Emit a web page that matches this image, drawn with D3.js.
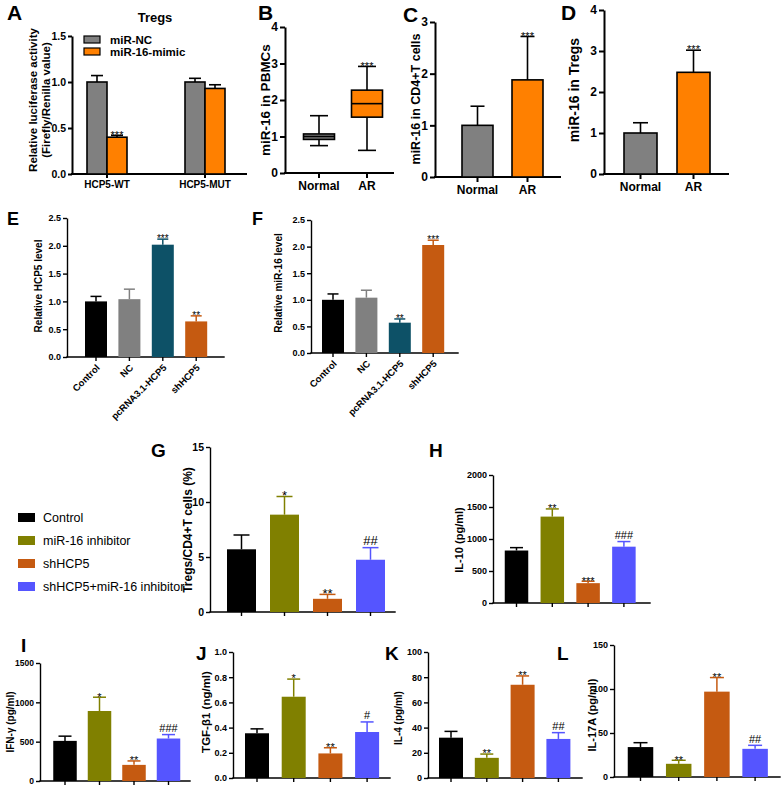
<!DOCTYPE html>
<html>
<head>
<meta charset="utf-8">
<script src="https://cdn.jsdelivr.net/npm/d3@7"></script>
<style>
  body { margin: 0; background: #fff; }
</style>
</head>
<body>
<div id="fig"></div>
<script>
// ---- data ----
const lucGroups = ["HCP5-WT", "HCP5-MUT"];
const lucSeries = ["miR-NC", "miR-16-mimic"];
const lucMean = [[1.0, 0.40], [1.0, 0.93]];
const lucErr = [[0.07, 0.02], [0.04, 0.04]];
const lucSig = [["", "***"], ["", ""]];

const arGroups = ["Normal", "AR"];
const pbmcBox = [
  { min: 0.75, q1: 0.92, med: 1.0, q3: 1.07, max: 1.57 },
  { min: 0.62, q1: 1.53, med: 1.9, q3: 2.27, max: 2.92 }
];
const pbmcSig = ["", "***"];
const cd4Mean = [1.0, 1.88];
const cd4Err = [0.37, 0.84];
const tregMean = [1.0, 2.48];
const tregErr = [0.25, 0.54];
const arSig = ["", "***"];

const efGroups = ["Control", "NC", "pcRNA3.1-HCP5", "shHCP5"];
const hcp5Mean = [1.0, 1.04, 2.02, 0.64];
const hcp5Err = [0.09, 0.18, 0.10, 0.10];
const hcp5Sig = ["", "", "***", "**"];
const mir16Mean = [1.0, 1.04, 0.57, 2.03];
const mir16Err = [0.11, 0.14, 0.07, 0.09];
const mir16Sig = ["", "", "**", "***"];

const treatGroups = ["Control", "miR-16 inhibitor", "shHCP5", "shHCP5+miR-16 inhibitor"];
const tregPct = [5.7, 8.85, 1.2, 4.75];
const tregPctErr = [1.3, 1.65, 0.4, 1.1];
const tregPctSig = ["", "*", "**", "##"];
const il10 = [820, 1350, 310, 880];
const il10Err = [45, 120, 30, 80];
const il10Sig = ["", "**", "***", "###"];
const ifng = [510, 890, 205, 540];
const ifngErr = [60, 175, 50, 50];
const ifngSig = ["", "*", "**", "###"];
const tgfb1 = [0.355, 0.645, 0.195, 0.365];
const tgfb1Err = [0.035, 0.14, 0.045, 0.08];
const tgfb1Sig = ["", "*", "**", "#"];
const il4 = [32, 16, 74, 31];
const il4Err = [5, 3, 7, 5];
const il4Sig = ["", "**", "**", "##"];
const il17a = [34, 15, 97, 32];
const il17aErr = [5, 4, 16, 4];
const il17aSig = ["", "**", "**", "##"];

// ---- colours ----
const GRAY = "#808080", ORANGE = "#ff8000";
const efColors = ["#000000", "#808080", "#0d5167", "#c55a11"];
const treatColors = ["#000000", "#808000", "#c55a11", "#5555ff"];
const FONT = "Arial, 'Liberation Sans', Helvetica, sans-serif";

const svg = d3.select("#fig").append("svg")
  .attr("width", 783).attr("height", 789)
  .attr("font-family", FONT);

function panelLetter(t, x, y, size) {
  svg.append("text").attr("x", x).attr("y", y)
    .attr("font-size", size).attr("font-weight", "bold").text(t);
}

function makeAxes(p) {
  const g = svg.append("g");
  const y = d3.scaleLinear().domain(p.domain).range([p.base, p.top]);
  const pad = 1 - p.bw / p.step;
  const x = d3.scaleBand().domain(p.cats)
    .range([p.c0 - p.step / 2, p.c0 + (p.cats.length - 0.5) * p.step])
    .paddingInner(pad).paddingOuter(pad / 2);

  const ya = g.append("g").attr("transform", `translate(${p.axisX},0)`)
    .call(d3.axisLeft(y).tickValues(p.ticks).tickFormat(p.fmt)
      .tickSize(p.tickLen).tickSizeOuter(0));
  const xa = g.append("g").attr("transform", `translate(0,${p.base})`)
    .call(d3.axisBottom(x).tickSize(p.tickLen).tickSizeOuter(0)
      .tickFormat(p.xLabels ? d => d : ""));
  xa.select(".domain").remove();
  g.append("line")
    .attr("x1", p.axisX).attr("x2", p.axisEnd)
    .attr("y1", p.base).attr("y2", p.base)
    .attr("stroke", "#000").attr("stroke-width", p.axisW)
    .attr("stroke-linecap", "square");

  [ya, xa].forEach(a => {
    a.selectAll("path, line").attr("stroke", "#000").attr("stroke-width", p.axisW);
    a.selectAll("text").attr("font-family", FONT).attr("font-weight", "bold")
      .attr("fill", "#000");
  });
  ya.selectAll("text").attr("font-size", p.tickFont).attr("x", -p.tickLen - 2);
  xa.selectAll("text").attr("font-size", p.xFont || p.tickFont);
  if (p.rotate) {
    xa.selectAll("text")
      .attr("text-anchor", "end")
      .attr("x", 0).attr("y", 0).attr("dy", "0.35em")
      .attr("transform", "translate(2,9) rotate(-45)");
  }

  g.append("text")
    .attr("transform", `translate(${p.ylabX},${p.ylabY}) rotate(-90)`)
    .attr("text-anchor", "middle").attr("font-weight", "bold")
    .attr("font-size", p.ylabFont)
    .selectAll("tspan").data([].concat(p.ylab)).join("tspan")
    .attr("x", 0).attr("dy", (d, i) => i === 0 ? 0 : p.ylabFont * 1.15)
    .text(d => d);
  return { g, x, y };
}

// baseline for a significance mark sitting just above the error cap
function sigY(top, s, size) {
  return s.includes("#") ? top - 2.5 : top + size * 0.3;
}

function barPanel(p) {
  const { g, x, y } = makeAxes(p);
  const cx = d => x(d) + x.bandwidth() / 2;

  g.selectAll("rect.bar").data(p.cats).join("rect").attr("class", "bar")
    .attr("x", d => x(d)).attr("width", x.bandwidth())
    .attr("y", (d, i) => y(p.values[i]))
    .attr("height", (d, i) => p.base - y(p.values[i]))
    .attr("fill", (d, i) => p.colors[i])
    .attr("stroke", p.stroke || "none").attr("stroke-width", p.strokeW || 0);

  const errCol = (d, i) => p.errColor || p.colors[i];
  g.selectAll("line.err").data(p.cats).join("line").attr("class", "err")
    .attr("x1", cx).attr("x2", cx)
    .attr("y1", (d, i) => y(p.values[i]))
    .attr("y2", (d, i) => y(p.values[i] + p.errs[i]))
    .attr("stroke", errCol).attr("stroke-width", p.errW);
  g.selectAll("line.cap").data(p.cats).join("line").attr("class", "cap")
    .attr("x1", d => cx(d) - p.capW / 2).attr("x2", d => cx(d) + p.capW / 2)
    .attr("y1", (d, i) => y(p.values[i] + p.errs[i]))
    .attr("y2", (d, i) => y(p.values[i] + p.errs[i]))
    .attr("stroke", errCol).attr("stroke-width", p.errW);

  g.selectAll("text.sig").data(p.cats).join("text").attr("class", "sig")
    .attr("x", cx)
    .attr("y", (d, i) => sigY(y(p.values[i] + p.errs[i]), p.sig[i], p.sigFont))
    .attr("text-anchor", "middle").attr("font-size", p.sigFont)
    .attr("fill", "#000")
    .text((d, i) => p.sig[i]);
}

// ---- A: luciferase grouped bars ----
(function () {
  const p = {
    cats: lucGroups, domain: [0, 1.5], ticks: [0, 0.5, 1.0, 1.5], fmt: d3.format(".1f"),
    base: 174, top: 36, axisX: 72, axisEnd: 246, c0: 107, step: 98, bw: 40,
    tickLen: 4, axisW: 2, tickFont: 10.5, xLabels: true, xFont: 10,
    ylab: ["Relative luciferase activity", "(Firefly/Renilla value)"],
    ylabX: 37, ylabY: 100, ylabFont: 11.5
  };
  const { g, x, y } = makeAxes(p);
  const xs = d3.scaleBand().domain(lucSeries).range([0, x.bandwidth()]);
  const cols = [GRAY, ORANGE];
  const grp = g.selectAll("g.grp").data(lucGroups).join("g").attr("class", "grp")
    .attr("transform", d => `translate(${x(d)},0)`);
  lucSeries.forEach((s, j) => {
    const cx = xs(s) + xs.bandwidth() / 2;
    grp.append("rect")
      .attr("x", xs(s)).attr("width", xs.bandwidth())
      .attr("y", (d, i) => y(lucMean[i][j]))
      .attr("height", (d, i) => p.base - y(lucMean[i][j]))
      .attr("fill", cols[j]).attr("stroke", "#000").attr("stroke-width", 1.6);
    grp.append("line")
      .attr("x1", cx).attr("x2", cx)
      .attr("y1", (d, i) => y(lucMean[i][j]))
      .attr("y2", (d, i) => y(lucMean[i][j] + lucErr[i][j]))
      .attr("stroke", "#000").attr("stroke-width", 1.6);
    grp.append("line")
      .attr("x1", cx - 6).attr("x2", cx + 6)
      .attr("y1", (d, i) => y(lucMean[i][j] + lucErr[i][j]))
      .attr("y2", (d, i) => y(lucMean[i][j] + lucErr[i][j]))
      .attr("stroke", "#000").attr("stroke-width", 1.6);
    grp.append("text")
      .attr("x", cx).attr("y", (d, i) => sigY(y(lucMean[i][j] + lucErr[i][j]), lucSig[i][j], 11))
      .attr("text-anchor", "middle").attr("font-size", 11).attr("fill", "#000")
      .text((d, i) => lucSig[i][j]);
  });
  // legend
  const lg = svg.append("g");
  lucSeries.forEach((s, j) => {
    lg.append("rect").attr("x", 84).attr("y", 36 + j * 12).attr("width", 16).attr("height", 7)
      .attr("fill", cols[j]).attr("stroke", "#000").attr("stroke-width", 1.2);
    lg.append("text").attr("x", 110).attr("y", 44 + j * 12)
      .attr("font-size", 11.5).attr("font-weight", "bold").text(s);
  });
  svg.append("text").attr("x", 155).attr("y", 22).attr("text-anchor", "middle")
    .attr("font-size", 13).attr("font-weight", "bold").text("Tregs");
  panelLetter("A", 7, 20, 21);
})();

// ---- B: box plot ----
(function () {
  const p = {
    cats: arGroups, domain: [0, 4], ticks: [0, 1, 2, 3, 4], fmt: d3.format("d"),
    base: 173, top: 27, axisX: 285, axisEnd: 393, c0: 319, step: 48, bw: 31,
    tickLen: 5, axisW: 2, tickFont: 12, xLabels: true, xFont: 12,
    ylab: "miR-16 in PBMCs", ylabX: 270, ylabY: 100, ylabFont: 13.5
  };
  const { g, x, y } = makeAxes(p);
  const cols = [GRAY, ORANGE];
  const bw = x.bandwidth();
  const b = g.selectAll("g.box").data(pbmcBox).join("g").attr("class", "box")
    .attr("transform", (d, i) => `translate(${x(arGroups[i]) + bw / 2},0)`);
  b.append("line").attr("x1", 0).attr("x2", 0)
    .attr("y1", d => y(d.min)).attr("y2", d => y(d.max))
    .attr("stroke", "#000").attr("stroke-width", 1.6);
  b.append("line").attr("x1", -9).attr("x2", 9)
    .attr("y1", d => y(d.min)).attr("y2", d => y(d.min))
    .attr("stroke", "#000").attr("stroke-width", 1.6);
  b.append("line").attr("x1", -9).attr("x2", 9)
    .attr("y1", d => y(d.max)).attr("y2", d => y(d.max))
    .attr("stroke", "#000").attr("stroke-width", 1.6);
  b.append("rect").attr("x", -bw / 2).attr("width", bw)
    .attr("y", d => y(d.q3)).attr("height", d => y(d.q1) - y(d.q3))
    .attr("fill", (d, i) => cols[i]).attr("stroke", "#000").attr("stroke-width", 1.6);
  b.append("line").attr("x1", -bw / 2).attr("x2", bw / 2)
    .attr("y1", d => y(d.med)).attr("y2", d => y(d.med))
    .attr("stroke", "#000").attr("stroke-width", 1.6);
  b.append("text").attr("y", (d, i) => sigY(y(d.max), pbmcSig[i], 11)).attr("text-anchor", "middle")
    .attr("font-size", 11).attr("fill", "#000").text((d, i) => pbmcSig[i]);
  panelLetter("B", 258, 20, 21);
})();

// ---- C, D ----
barPanel({
  cats: arGroups, values: cd4Mean, errs: cd4Err, sig: arSig, colors: [GRAY, ORANGE],
  domain: [0, 3], ticks: [0, 1, 2, 3], fmt: d3.format("d"),
  base: 177, top: 22, axisX: 435, axisEnd: 560, c0: 477.5, step: 50, bw: 31,
  stroke: "#000", strokeW: 1.6, errColor: "#000", errW: 1.6, capW: 14,
  tickLen: 5, axisW: 2, tickFont: 12, xLabels: true, xFont: 12,
  ylab: "miR-16 in CD4+T cells", ylabX: 420, ylabY: 99, ylabFont: 12.5, sigFont: 11
});
panelLetter("C", 403, 22, 21);

barPanel({
  cats: arGroups, values: tregMean, errs: tregErr, sig: arSig, colors: [GRAY, ORANGE],
  domain: [0, 4], ticks: [0, 1, 2, 3, 4], fmt: d3.format("d"),
  base: 174, top: 10, axisX: 604, axisEnd: 728, c0: 640.5, step: 53, bw: 33,
  stroke: "#000", strokeW: 1.6, errColor: "#000", errW: 1.6, capW: 15,
  tickLen: 5, axisW: 2, tickFont: 12, xLabels: true, xFont: 12,
  ylab: "miR-16 in Tregs", ylabX: 579, ylabY: 90, ylabFont: 14, sigFont: 11
});
panelLetter("D", 561, 20, 21);

// ---- E, F ----
barPanel({
  cats: efGroups, values: hcp5Mean, errs: hcp5Err, sig: hcp5Sig, colors: efColors,
  domain: [0, 2.5], ticks: [0, 0.5, 1.0, 1.5, 2.0, 2.5], fmt: d3.format(".1f"),
  base: 357, top: 218, axisX: 67, axisEnd: 224, c0: 96, step: 33.4, bw: 22,
  errW: 1.5, capW: 11, tickLen: 4, axisW: 1.4, tickFont: 9, xLabels: true, rotate: true, xFont: 9.5,
  ylab: "Relative HCP5 level", ylabX: 42, ylabY: 286, ylabFont: 10, sigFont: 10
});
panelLetter("E", 7, 225, 18);

barPanel({
  cats: efGroups, values: mir16Mean, errs: mir16Err, sig: mir16Sig, colors: efColors,
  domain: [0, 2.5], ticks: [0, 0.5, 1.0, 1.5, 2.0, 2.5], fmt: d3.format(".1f"),
  base: 353, top: 220, axisX: 311, axisEnd: 458, c0: 333, step: 33.4, bw: 22,
  errW: 1.5, capW: 11, tickLen: 4, axisW: 1.4, tickFont: 9, xLabels: true, rotate: true, xFont: 9.5,
  ylab: "Relative miR-16 level", ylabX: 282, ylabY: 283, ylabFont: 10, sigFont: 10
});
panelLetter("F", 252, 225, 18);

// ---- legend for G-L ----
(function () {
  const lg = svg.append("g");
  treatGroups.forEach((t, i) => {
    lg.append("rect").attr("x", 18).attr("y", 513 + i * 23).attr("width", 17).attr("height", 9)
      .attr("fill", treatColors[i]);
    lg.append("text").attr("x", 43).attr("y", 522 + i * 23)
      .attr("font-size", 12.5).text(t);
  });
})();

// ---- G-L ----
const common = { cats: treatGroups, colors: treatColors, errW: 1.5, tickLen: 4, axisW: 1.4, xLabels: false };

barPanel(Object.assign({}, common, {
  values: tregPct, errs: tregPctErr, sig: tregPctSig,
  domain: [0, 15], ticks: [0, 5, 10, 15], fmt: d3.format("d"),
  base: 612, top: 447, axisX: 210, axisEnd: 395, c0: 241.5, step: 43, bw: 29,
  capW: 16, tickFont: 10.5, ylab: "Tregs/CD4+T cells (%)", ylabX: 192, ylabY: 530, ylabFont: 12, sigFont: 13
}));
panelLetter("G", 151, 457, 19);

barPanel(Object.assign({}, common, {
  values: il10, errs: il10Err, sig: il10Sig,
  domain: [0, 2000], ticks: [0, 500, 1000, 1500, 2000], fmt: d3.format("d"),
  base: 603, top: 475, axisX: 493, axisEnd: 650, c0: 516.5, step: 35.8, bw: 23.5,
  capW: 13, tickFont: 9, ylab: "IL-10 (pg/ml)", ylabX: 463, ylabY: 540, ylabFont: 11, sigFont: 11
}));
panelLetter("H", 429, 457, 19);

barPanel(Object.assign({}, common, {
  values: ifng, errs: ifngErr, sig: ifngSig,
  domain: [0, 1500], ticks: [0, 500, 1000, 1500], fmt: d3.format("d"),
  base: 781, top: 663, axisX: 40, axisEnd: 190, c0: 65, step: 34.5, bw: 23.5,
  capW: 13, tickFont: 8.5, ylab: "IFN-γ (pg/ml)", ylabX: 14, ylabY: 722, ylabFont: 10, sigFont: 11
}));
panelLetter("I", 21, 652, 19);

barPanel(Object.assign({}, common, {
  values: tgfb1, errs: tgfb1Err, sig: tgfb1Sig,
  domain: [0, 1.0], ticks: [0, 0.2, 0.4, 0.6, 0.8, 1.0], fmt: d3.format(".1f"),
  base: 778, top: 652, axisX: 233, axisEnd: 390, c0: 257, step: 36.7, bw: 24,
  capW: 13, tickFont: 9, ylab: "TGF-β1 (ng/ml)", ylabX: 210, ylabY: 712, ylabFont: 11.5, sigFont: 11
}));
panelLetter("J", 196, 660, 19);

barPanel(Object.assign({}, common, {
  values: il4, errs: il4Err, sig: il4Sig,
  domain: [0, 100], ticks: [0, 20, 40, 60, 80, 100], fmt: d3.format("d"),
  base: 778, top: 652, axisX: 428, axisEnd: 582, c0: 451, step: 35.8, bw: 24,
  capW: 13, tickFont: 9, ylab: "IL-4 (pg/ml)", ylabX: 402, ylabY: 718, ylabFont: 10, sigFont: 11
}));
panelLetter("K", 385, 660, 19);

barPanel(Object.assign({}, common, {
  values: il17a, errs: il17aErr, sig: il17aSig,
  domain: [0, 150], ticks: [0, 50, 100, 150], fmt: d3.format("d"),
  base: 777, top: 645, axisX: 614, axisEnd: 780, c0: 640.5, step: 38.2, bw: 25.5,
  capW: 14, tickFont: 9, ylab: "IL-17A (pg/ml)", ylabX: 596, ylabY: 715, ylabFont: 11, sigFont: 11
}));
panelLetter("L", 557, 660, 19);
</script>
</body>
</html>
